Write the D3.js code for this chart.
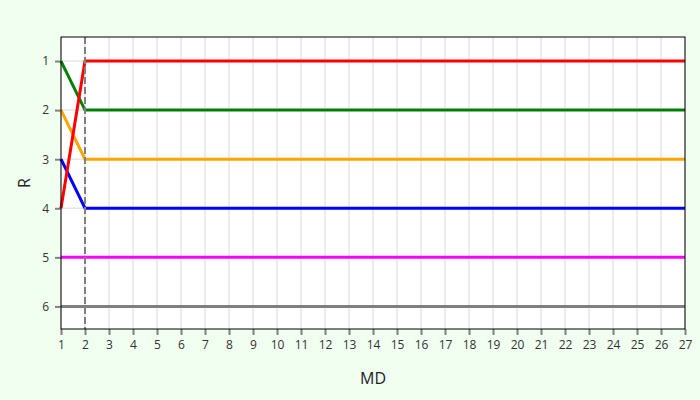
<!DOCTYPE html>
<html>
<head>
<meta charset="utf-8">
<script src="https://cdn.jsdelivr.net/npm/d3@7"></script>
<style>
  body { margin: 0; background: #f0fff0; }
  text { font-family: "Open Sans", sans-serif; }
</style>
</head>
<body>
<svg width="700" height="400"></svg>
<script>
// data
var days = d3.range(1, 28);
var redRank     = [4].concat(d3.range(26).map(() => 1));
var greenRank   = [1].concat(d3.range(26).map(() => 2));
var orangeRank  = [2].concat(d3.range(26).map(() => 3));
var blueRank    = [3].concat(d3.range(26).map(() => 4));
var magentaRank = days.map(() => 5);
var grayRank    = days.map(() => 6);
var series = [
  { name: "gray", values: grayRank, color: "#808080" },
  { name: "magenta", values: magentaRank, color: "#ff00ff" },
  { name: "blue", values: blueRank, color: "#0000ff" },
  { name: "orange", values: orangeRank, color: "#ffa500" },
  { name: "green", values: greenRank, color: "#008000" },
  { name: "red", values: redRank, color: "#ff0000" }
];
var yTicks = [1, 2, 3, 4, 5, 6];
var markerDay = 2;

var svg = d3.select("svg");
var margin = { top: 37, right: 15, bottom: 71, left: 61 };
var innerWidth = 700 - margin.left - margin.right;
var innerHeight = 400 - margin.top - margin.bottom;

var xScale = d3.scaleLinear().domain([1, 27]).range([0, innerWidth]);
var yScale = d3.scaleLinear().domain([0.51, 6.46]).range([0, innerHeight]);

var g = svg.append("g").attr("transform", `translate(${margin.left},${margin.top})`);

g.append("rect").attr("width", innerWidth).attr("height", innerHeight).attr("fill", "white");

// grid
g.selectAll(".vgrid").data(days).enter().append("line")
  .attr("x1", d => xScale(d)).attr("x2", d => xScale(d))
  .attr("y1", 0).attr("y2", innerHeight)
  .attr("stroke", "#e6e6e6").attr("stroke-width", 1.5);
g.selectAll(".hgrid").data(yTicks).enter().append("line")
  .attr("x1", 0).attr("x2", innerWidth)
  .attr("y1", d => yScale(d)).attr("y2", d => yScale(d))
  .attr("stroke", "#e6e6e6").attr("stroke-width", 1.5);

// axes
var xAxis = d3.axisBottom(xScale).tickValues(days).tickFormat(d3.format("d")).tickSize(6).tickPadding(5);
var yAxis = d3.axisLeft(yScale).tickValues(yTicks).tickFormat(d3.format("d")).tickSize(6).tickPadding(6);
var xAxisG = g.append("g").attr("transform", `translate(0,${innerHeight})`).call(xAxis);
var yAxisG = g.append("g").call(yAxis);
[xAxisG, yAxisG].forEach(function (a) {
  a.select(".domain").remove();
  a.selectAll(".tick line").attr("stroke", "#808080").attr("stroke-width", 2);
  a.selectAll(".tick text").attr("fill", "#333").style("font-size", "12px");
});

// lines
var line = d3.line().x((d, i) => xScale(days[i])).y(d => yScale(d));
g.selectAll(".series").data(series).enter().append("path")
  .attr("d", d => line(d.values))
  .attr("fill", "none")
  .attr("stroke", d => d.color)
  .attr("stroke-width", 3);

// marker line
g.append("line")
  .attr("x1", xScale(markerDay)).attr("x2", xScale(markerDay))
  .attr("y1", 0).attr("y2", innerHeight)
  .attr("stroke", "#808080").attr("stroke-width", 2)
  .attr("stroke-dasharray", "7,3");

// frame
g.append("rect").attr("width", innerWidth).attr("height", innerHeight)
  .attr("fill", "none").attr("stroke", "black").attr("stroke-width", 1);

// labels
svg.append("text").attr("x", margin.left + innerWidth / 2).attr("y", 384)
  .attr("text-anchor", "middle").style("font-size", "16px").attr("fill", "#222").text("MD");
svg.append("text").attr("transform", `translate(30,${margin.top + innerHeight / 2}) rotate(-90)`)
  .attr("text-anchor", "middle").style("font-size", "16px").attr("fill", "#222").text("R");
</script>
</body>
</html>
